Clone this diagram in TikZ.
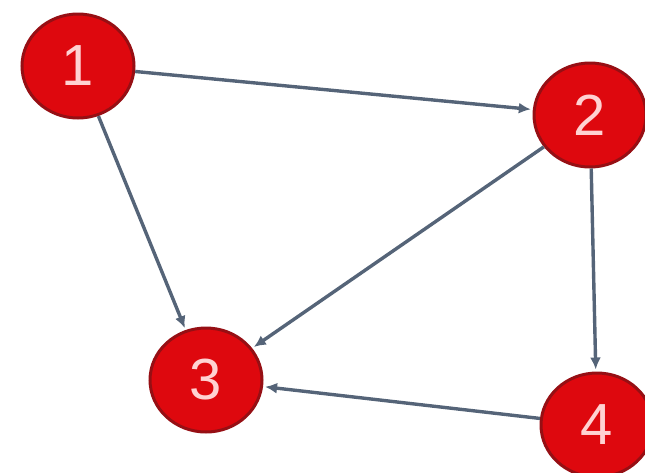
\documentclass[tikz,border=0pt]{standalone}
\usepackage{fontspec}
\setmainfont{Liberation Sans}
\usetikzlibrary{shapes.geometric,arrows.meta}
\definecolor{nodered}{RGB}{222,8,14}
\definecolor{noderim}{RGB}{150,15,20}
\definecolor{digit}{RGB}{255,210,210}
\definecolor{edgec}{RGB}{85,100,120}
\begin{document}
\begin{tikzpicture}[x=1pt,y=-1pt,
  vnode/.style={ellipse,fill=nodered,draw=noderim,line width=3pt,
    minimum width=112pt,minimum height=104pt,inner sep=0pt,
    text=digit,font=\fontsize{58}{58}\selectfont},
  edge/.style={draw=edgec,line width=3.4pt,-{Latex[length=12pt,width=11pt]},shorten >=2pt}]
\useasboundingbox (0,0) rectangle (645,472);
\node[vnode] (n1) at (78,66) {1};
\node[vnode] (n2) at (590,115) {2};
\node[vnode] (n3) at (206,380) {3};
\node[vnode] (n4) at (597,425) {4};
\draw[edge] (n1) -- (n2);
\draw[edge] (n1) -- (n3);
\draw[edge] (n2) -- (n3);
\draw[edge] (n2) -- (n4);
\draw[edge] (n4) -- (n3);
\end{tikzpicture}
\end{document}
